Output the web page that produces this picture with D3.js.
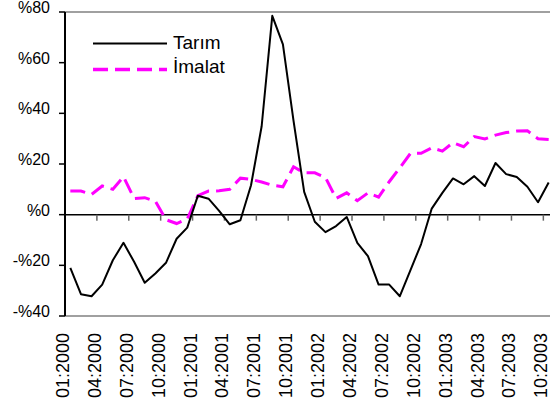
<!DOCTYPE html>
<html>
<head>
<meta charset="utf-8">
<script src="https://cdn.jsdelivr.net/npm/d3@7"></script>
<style>
  html, body { margin: 0; padding: 0; background: #fff; }
  svg { display: block; }
  text { font-family: "Liberation Sans", Arial, sans-serif; fill: #000; }
</style>
</head>
<body>
<svg id="chart" width="550" height="408"></svg>
<script>
// ---- data ----
const years = [2000, 2001, 2002, 2003];
const months = [];
years.forEach(yr => { for (let m = 1; m <= 12; m++) { if (yr === 2003 && m > 10) break; months.push((m < 10 ? "0" + m : "" + m) + ":" + yr); } });

const tarim = [-21.0, -31.4, -32.2, -27.6, -18.0, -11.1, -18.6, -26.9, -23.2, -19.0, -9.5, -5.1,
  7.5, 6.3, 1.5, -3.8, -2.2, 11.6, 34.9, 78.5, 67.2, 37.0, 9.0, -2.8,
  -6.9, -4.5, -0.9, -11.1, -16.4, -27.6, -27.6, -32.2, -21.9, -11.6, 2.4, 8.6,
  14.3, 12.0, 15.2, 11.3, 20.4, 16.0, 14.9, 11.0, 4.9, 12.7];

const imalat = [9.3, 9.3, 8.0, 11.3, 10.0, 15.0, 6.4, 6.7, 5.3, -2.0, -3.5, -1.7,
  7.5, 9.3, 9.4, 10.0, 14.4, 13.9, 12.9, 11.6, 11.0, 18.9, 16.5, 16.5,
  14.7, 6.4, 8.6, 5.5, 8.6, 6.9, 13.0, 18.5, 24.2, 24.2, 26.4, 25.1,
  28.4, 26.8, 30.8, 29.9, 31.4, 32.4, 33.0, 33.1, 30.0, 29.7];

const yTicks = [-40, -20, 0, 20, 40, 60, 80];
const yTickLabels = ["-%40", "-%20", "%0", "%20", "%40", "%60", "%80"];
const seriesNames = ["Tarım", "İmalat"];

// ---- layout ----
const svg = d3.select("#chart");
const plotLeft = 65, plotTop = 12, plotBottom = 316;
const band = 10.63;
const x = d3.scaleBand().domain(months).range([plotLeft, plotLeft + band * months.length]).paddingInner(0).paddingOuter(0);
const y = d3.scaleLinear().domain([-40, 80]).range([plotBottom, plotTop]);
const cx = d => x(d) + x.bandwidth() / 2;

// top and bottom border
svg.append("line").attr("x1", plotLeft).attr("x2", 550).attr("y1", y(80)).attr("y2", y(80))
  .attr("stroke", "#808080").attr("stroke-width", 1.5);
svg.append("line").attr("x1", plotLeft).attr("x2", 550).attr("y1", y(-40)).attr("y2", y(-40))
  .attr("stroke", "#808080").attr("stroke-width", 1.5);

// x axis at zero
const tickMonths = months.filter((m, i) => i % 3 === 0);
const xAxis = svg.append("g").attr("transform", `translate(0,${y(0)})`);
xAxis.append("line").attr("x1", plotLeft).attr("x2", 550).attr("y1", 0).attr("y2", 0)
  .attr("stroke", "#000").attr("stroke-width", 1.5);
xAxis.selectAll("line.tick").data(tickMonths.slice(1)).enter().append("line")
  .attr("class", "tick")
  .attr("x1", d => x(d)).attr("x2", d => x(d)).attr("y1", 0).attr("y2", 6)
  .attr("stroke", "#666").attr("stroke-width", 1.5);

// x labels
svg.append("g").selectAll("text").data(tickMonths).enter().append("text")
  .attr("transform", d => `translate(${x(d) + 4},333) rotate(-90)`)
  .attr("text-anchor", "end")
  .style("font-size", "18px")
  .text(d => d);

// y axis
svg.append("line").attr("x1", plotLeft).attr("x2", plotLeft).attr("y1", y(80)).attr("y2", y(-40))
  .attr("stroke", "#000").attr("stroke-width", 2);
const yg = svg.append("g");
yg.selectAll("line").data(yTicks).enter().append("line")
  .attr("x1", plotLeft - 6).attr("x2", plotLeft).attr("y1", d => y(d)).attr("y2", d => y(d))
  .attr("stroke", "#000").attr("stroke-width", 1.5);
yg.selectAll("text").data(yTicks).enter().append("text")
  .attr("x", 50).attr("y", d => y(d) + 1)
  .attr("text-anchor", "end")
  .style("font-size", "16px")
  .text((d, i) => yTickLabels[i]);

// lines
const line = d3.line().x((d, i) => cx(months[i])).y(d => y(d));
svg.append("path").datum(imalat).attr("d", line)
  .attr("fill", "none").attr("stroke", "#ff00ff").attr("stroke-width", 3)
  .attr("stroke-dasharray", "15,7");
svg.append("path").datum(tarim).attr("d", line)
  .attr("fill", "none").attr("stroke", "#000").attr("stroke-width", 2)
  .attr("stroke-linejoin", "round");

// legend
const lg = svg.append("g");
lg.append("line").attr("x1", 93).attr("x2", 167).attr("y1", 43.5).attr("y2", 43.5)
  .attr("stroke", "#000").attr("stroke-width", 2);
lg.append("line").attr("x1", 93).attr("x2", 167).attr("y1", 69.5).attr("y2", 69.5)
  .attr("stroke", "#ff00ff").attr("stroke-width", 3.3).attr("stroke-dasharray", "15,7");
lg.append("text").attr("x", 173).attr("y", 48.5).style("font-size", "19px").text(seriesNames[0]);
lg.append("text").attr("x", 173).attr("y", 73).style("font-size", "19px").text(seriesNames[1]);
</script>
</body>
</html>
